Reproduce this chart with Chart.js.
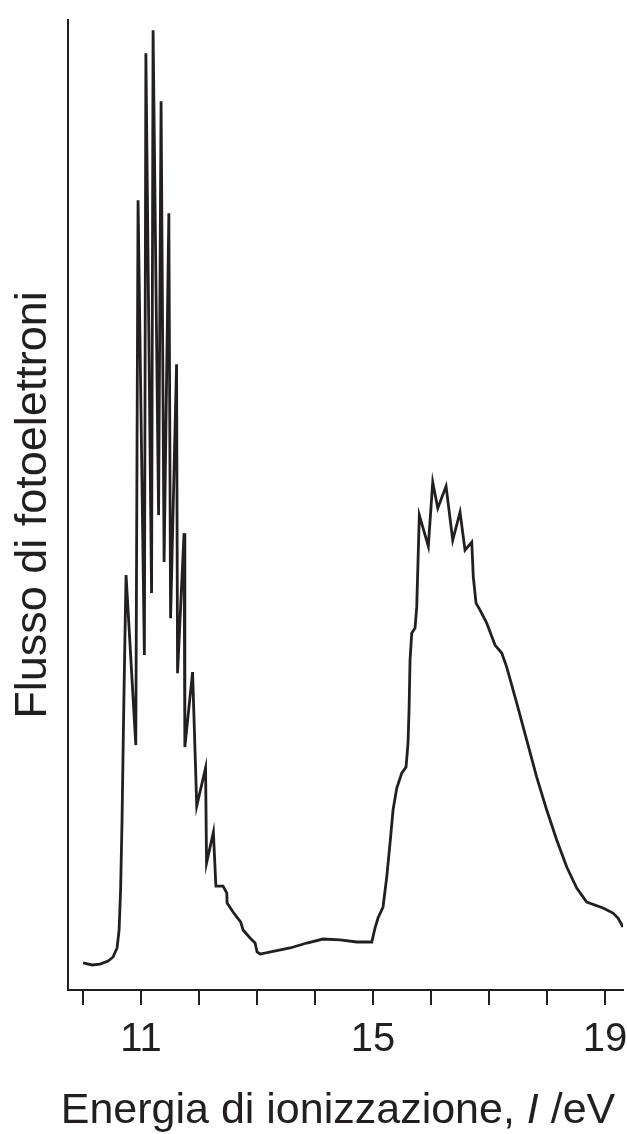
<!DOCTYPE html>
<html>
<head>
<meta charset="utf-8">
<script src="https://cdn.jsdelivr.net/npm/chart.js@4.4.0/dist/chart.umd.min.js"></script>
<style>
  html, body { margin: 0; padding: 0; background: #fff; }
  canvas { display: block; }
</style>
</head>
<body>
<canvas id="pesChart" width="627" height="1134"></canvas>
<script>
// Energia di ionizzazione (eV) and flusso di fotoelettroni (arbitrary units)
const energia = [
    10.000, 10.155, 10.293, 10.431, 10.517, 10.586, 10.621, 10.647, 10.672, 10.698,
    10.724, 10.741, 10.909, 10.948, 11.057, 11.083, 11.181, 11.207, 11.302, 11.345,
    11.397, 11.479, 11.509, 11.612, 11.629, 11.741, 11.755, 11.888, 11.960, 12.112,
    12.129, 12.247, 12.290, 12.414, 12.478, 12.483, 12.586, 12.719, 12.759, 12.879,
    12.966, 13.000, 13.052, 13.340, 13.569, 13.857, 14.138, 14.431, 14.719, 14.978,
    15.034, 15.086, 15.172, 15.236, 15.293, 15.345, 15.409, 15.495, 15.569, 15.603,
    15.621, 15.638, 15.667, 15.724, 15.753, 15.776, 15.798, 15.953, 16.029, 16.116,
    16.259, 16.374, 16.500, 16.586, 16.702, 16.729, 16.776, 16.845, 16.960, 17.103,
    17.219, 17.305, 17.478, 17.650, 17.822, 17.995, 18.167, 18.340, 18.512, 18.684,
    18.966, 19.138, 19.224, 19.310
];
const flusso = [
    2.83, 2.62, 2.72, 3.04, 3.46, 4.40, 6.28, 10.47, 17.80, 28.27,
    37.70, 43.46, 25.65, 82.72, 35.08, 98.12, 41.57, 100.52, 49.74, 93.09,
    44.82, 81.36, 38.95, 65.55, 33.19, 47.85, 25.45, 33.30, 19.27, 23.25,
    13.30, 16.54, 10.89, 10.89, 10.16, 9.11, 8.17, 7.12, 6.28, 5.45,
    4.92, 3.98, 3.77, 4.12, 4.40, 4.92, 5.34, 5.24, 5.03, 5.03,
    6.49, 7.54, 8.69, 11.83, 15.39, 18.85, 21.15, 22.72, 23.35, 25.86,
    29.32, 34.55, 37.38, 37.91, 40.10, 45.03, 49.74, 46.49, 53.19, 50.47,
    52.77, 47.12, 50.05, 46.07, 46.91, 43.25, 40.52, 39.79, 38.43, 36.13,
    35.29, 33.82, 30.05, 26.18, 22.30, 18.85, 15.71, 12.88, 10.68, 9.21,
    8.59, 8.06, 7.54, 6.60
];

const xTicks = [10, 11, 12, 13, 14, 15, 16, 17, 18, 19];
const xLabels = [11, 15, 19];
const xRange = [9.74, 19.31];
const yRange = [0, 101.6];

const ink = '#231f20';
const fontFamily = '"Liberation Sans", Arial, Helvetica, sans-serif';

// x axis title has an italic "I", so it is drawn by hand
const xTitlePlugin = {
    id: 'xTitle',
    afterDraw(chart) {
        const ctx = chart.ctx;
        const parts = [
            { text: 'Energia di ionizzazione, ', font: `43px ${fontFamily}` },
            { text: 'I', font: `italic 43px ${fontFamily}` },
            { text: ' /eV', font: `43px ${fontFamily}` }
        ];
        ctx.save();
        ctx.fillStyle = ink;
        ctx.textBaseline = 'alphabetic';
        ctx.textAlign = 'left';
        let total = 0;
        parts.forEach(p => { ctx.font = p.font; p.w = ctx.measureText(p.text).width; total += p.w; });
        let x = 338 - total / 2;
        parts.forEach(p => {
            ctx.font = p.font;
            ctx.fillText(p.text, x, 1123);
            x += p.w;
        });
        ctx.restore();
    }
};

const ctx = document.getElementById('pesChart').getContext('2d');
new Chart(ctx, {
    type: 'line',
    data: {
        datasets: [{
            label: 'Flusso di fotoelettroni',
            data: energia.map((e, i) => ({ x: e, y: flusso[i] })),
            borderColor: ink,
            borderWidth: 2.8,
            pointRadius: 0,
            tension: 0,
            fill: false
        }]
    },
    options: {
        responsive: false,
        animation: false,
        layout: { padding: { top: 20, right: 4, bottom: 59, left: 0 } },
        plugins: {
            legend: { display: false },
            tooltip: { enabled: false }
        },
        scales: {
            x: {
                type: 'linear',
                min: xRange[0],
                max: xRange[1],
                afterBuildTicks: scale => { scale.ticks = xTicks.map(v => ({ value: v })); },
                // let the "19" label hang past the axis end like the original
                afterFit: scale => { scale.paddingRight = 0; scale.paddingLeft = 0; },
                grid: {
                    display: true,
                    drawOnChartArea: false,
                    drawTicks: true,
                    tickLength: 15,
                    color: ink,
                    lineWidth: 2
                },
                border: { display: true, color: ink, width: 2 },
                ticks: {
                    autoSkip: false,
                    maxRotation: 0,
                    padding: 11,
                    color: ink,
                    font: { family: fontFamily, size: 40 },
                    callback: v => xLabels.includes(v) ? String(v) : ''
                }
            },
            y: {
                min: yRange[0],
                max: yRange[1],
                grid: { display: false, drawTicks: false },
                border: { display: true, color: ink, width: 2 },
                ticks: { display: false },
                title: {
                    display: true,
                    text: 'Flusso di fotoelettroni',
                    color: ink,
                    font: { family: fontFamily, size: 45 },
                    padding: { top: 7, bottom: 7 }
                }
            }
        }
    },
    plugins: [xTitlePlugin]
});
</script>
</body>
</html>
